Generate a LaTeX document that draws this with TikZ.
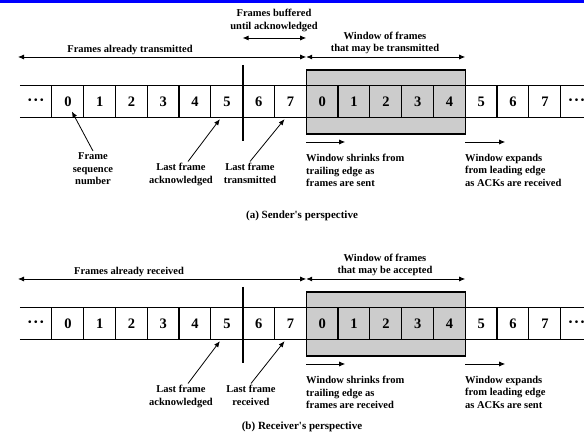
\documentclass[tikz,border=0pt]{standalone}
\usepackage{fontspec}
\setmainfont{Liberation Serif}
\usetikzlibrary{arrows.meta}

\begin{document}
\begin{tikzpicture}[
  x = 1pt, y = -1pt,
  >={Latex[length=6pt,width=5pt]},
  every node/.style = {inner sep=1.5pt, font=\bfseries\fontsize{10.5}{12.5}\selectfont},
  cell/.style = {minimum width=31.8pt, minimum height=31pt, inner sep=0pt,
                 font=\bfseries\fontsize{14.5}{14.5}\selectfont},
  lbl/.style = {align=center},
  lbll/.style = {align=left, anchor=north west},
  seta/.style = {<->, line width=0.8pt},
]
\def\cw{31.8}
\def\pontos{{\fontsize{10}{10}\selectfont\textbullet\hspace{2.5pt}\textbullet\hspace{2.5pt}\textbullet}}
\useasboundingbox (0,0) rectangle (584,443);
\fill[blue] (0,0) rectangle (584,3.5);

% as duas faixas de numeros de sequencia
\foreach \p/\dy in {a/0,b/222} {
  \begin{scope}[shift={(0,\dy)}]
    \draw[fill=gray!40, line width=1.3pt] ({52+8*\cw},70) rectangle ({52+13*\cw},134);
    \node[cell] (\p d) at (36,101.5) {\pontos};
    \foreach \k [evaluate=\k as \n using {int(mod(\k,8))}] in {0,...,15}
      \node[cell] (\p\k) at ({52+(\k+0.5)*\cw},101.5) {\n};
    \node[cell] (\p e) at ({52+16.5*\cw},101.5) {\pontos};
    \draw[line width=1.3pt] (\p d.north west) -- (\p e.north east);
    \draw[line width=1.3pt] (\p d.south west) -- (\p e.south east);
    \foreach \k in {0,...,15}
      \draw[line width=1.3pt] (\p\k.north west) -- (\p\k.south west);
    \draw[line width=1.3pt] (\p e.north west) -- (\p e.south west);
    % limite entre confirmados e pendentes
    \draw[line width=2.2pt] ([yshift=21pt]\p6.north west) -- ([yshift=-24pt]\p6.south west);
  \end{scope}
}

% (a) emissor
\coordinate (aL) at (18,57);
\coordinate (aB) at (0,38);
\coordinate (aS) at (0,142);
\draw[seta] (aL) -- (a8.north west |- aL);
\node (atx) at (130,50) {Frames already transmitted};
\draw[seta] (a8.north west |- aL) -- (a13.north west |- aL);
\node[lbl] (awin) at (385,43) {Window of frames\\that may be transmitted};
\draw[seta] (a6.north west |- aB) -- (a8.north west |- aB);
\node[lbl] (abuf) at (274,20.5) {Frames buffered\\until acknowledged};

\node[lbl, anchor=north] (aseq) at (93,151) {Frame\\sequence\\number};
\draw[->, line width=0.8pt] (aseq.north) -- ([xshift=4pt,yshift=-10pt]a0.center);
\node[lbl, anchor=north] (aack) at (181,161.5) {Last frame\\acknowledged};
\draw[->, line width=0.8pt] ([xshift=7pt]aack.north) -- ([xshift=-7pt,yshift=-2pt]a5.south);
\node[lbl, anchor=north] (atr) at (250,161.5) {Last frame\\transmitted};
\draw[->, line width=0.8pt] (atr.north) -- ([xshift=-6pt,yshift=-2pt]a7.south);
\draw[->, line width=0.8pt] (a8.south west |- aS) -- ++(39,0);
\node[lbll] (ashr) at (304.5,152.5) {Window shrinks from\\trailing edge as\\frames are sent};
\draw[->, line width=0.8pt] (a13.south west |- aS) -- ++(40,0);
\node[lbll] (aexp) at (463.5,152.5) {Window expands\\from leading edge\\as ACKs are received};
\node (acap) at (302,216) {\fontsize{11}{13}\selectfont(a) Sender\textquotesingle s perspective};

% (b) receptor
\coordinate (bL) at (18,279);
\coordinate (bS) at (0,364);
\draw[seta] (bL) -- (b8.north west |- bL);
\node (brx) at (129,272) {Frames already received};
\draw[seta] (b8.north west |- bL) -- (b13.north west |- bL);
\node[lbl] (bwin) at (385,265) {Window of frames\\that may be accepted};

\node[lbl, anchor=north] (back) at (181,383.5) {Last frame\\acknowledged};
\draw[->, line width=0.8pt] ([xshift=7pt]back.north) -- ([xshift=-7pt,yshift=-2pt]b5.south);
\node[lbl, anchor=north] (brc) at (251,383.5) {Last frame\\received};
\draw[->, line width=0.8pt] (brc.north) -- ([xshift=-6pt,yshift=-2pt]b7.south);
\draw[->, line width=0.8pt] (b8.south west |- bS) -- ++(39,0);
\node[lbll] (bshr) at (304.5,374.5) {Window shrinks from\\trailing edge as\\frames are received};
\draw[->, line width=0.8pt] (b13.south west |- bS) -- ++(40,0);
\node[lbll] (bexp) at (463.5,374.5) {Window expands\\from leading edge\\as ACKs are sent};
\node (bcap) at (302,427) {\fontsize{11}{13}\selectfont(b) Receiver\textquotesingle s perspective};
\end{tikzpicture}
\end{document}
